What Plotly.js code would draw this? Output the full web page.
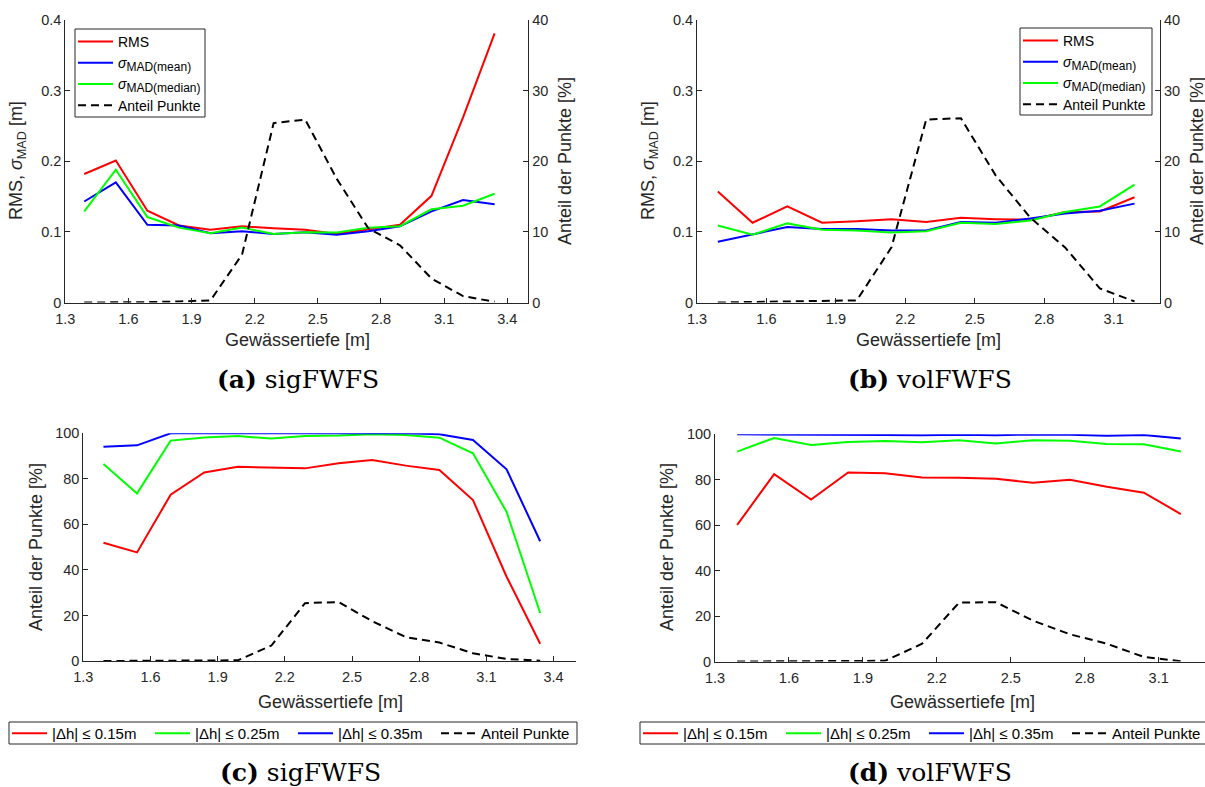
<!DOCTYPE html>
<html>
<head>
<meta charset="utf-8">
<script src="https://cdn.plot.ly/plotly-3.0.1.min.js"></script>
<style>html,body{margin:0;padding:0;background:#fff;}#chart{width:1205px;height:787px;}</style>
</head>
<body>
<div id="chart"></div>
<script>
// ---------- data ----------
const depthSig = [1.39,1.54,1.69,1.84,1.99,2.14,2.29,2.44,2.59,2.74,2.89,3.04,3.19,3.34];
const depthVol = [1.39,1.54,1.69,1.84,1.99,2.14,2.29,2.44,2.59,2.74,2.89,3.04,3.19];

const rmsSig       = [0.182,0.201,0.130,0.109,0.103,0.108,0.105,0.103,0.097,0.103,0.110,0.151,0.262,0.381];
const madMeanSig   = [0.143,0.170,0.110,0.109,0.098,0.101,0.097,0.0995,0.096,0.101,0.108,0.129,0.145,0.139];
const madMedianSig = [0.129,0.188,0.121,0.106,0.098,0.106,0.097,0.0995,0.099,0.106,0.108,0.132,0.137,0.154];
const anteilSig    = [0,0,0.05,0.15,0.3,6.8,25.4,25.9,17.5,10.5,8.1,3.4,0.9,0.1];

const rmsVol       = [0.157,0.113,0.136,0.113,0.115,0.118,0.114,0.120,0.118,0.117,0.128,0.129,0.149];
const madMeanVol   = [0.086,0.097,0.107,0.104,0.104,0.102,0.102,0.114,0.113,0.119,0.126,0.130,0.140];
const madMedianVol = [0.109,0.096,0.112,0.103,0.102,0.099,0.101,0.113,0.111,0.116,0.128,0.136,0.167];
const anteilVol    = [0,0.05,0.1,0.2,0.3,7.8,25.9,26.1,18.0,12.0,7.8,2.0,0.15];

const dh015Sig = [51.9,47.7,73.0,82.8,85.3,85.0,84.6,86.8,88.3,85.8,83.9,70.7,37.0,7.6];
const dh025Sig = [86.5,73.6,96.8,98.2,98.8,97.7,98.8,99.0,99.6,99.3,98.1,91.2,65.5,21.1];
const dh035Sig = [94.1,94.7,100,100,100,100,100,100,100,100,99.6,97.1,84.2,52.6];

const dh015Vol = [60.1,82.5,71.3,83.2,82.9,81.0,80.9,80.4,78.7,80.0,76.9,74.3,64.9];
const dh025Vol = [92.4,98.4,95.3,96.6,97.1,96.5,97.4,95.9,97.4,97.2,95.7,95.6,92.4];
const dh035Vol = [100,100,100,100,99.7,99.6,99.8,99.6,99.9,99.8,99.4,99.7,98.2];

const SUBSTYLE = '<span style="font-size:12px">';
const namesTop = ['RMS',
  '<i>σ</i><sub>' + SUBSTYLE + 'MAD(mean)</span></sub>',
  '<i>σ</i><sub>' + SUBSTYLE + 'MAD(median)</span></sub>',
  'Anteil Punkte'];
const namesBot = ['|Δh| ≤ 0.15m','|Δh| ≤ 0.25m','|Δh| ≤ 0.35m','Anteil Punkte'];
const ticksDepthSig = [1.3,1.6,1.9,2.2,2.5,2.8,3.1,3.4];
const ticksDepthVol = [1.3,1.6,1.9,2.2,2.5,2.8,3.1];

// ---------- layout helpers ----------
const W = 1205, H = 787;
const px = v => v / W;
const py = v => 1 - v / H;
const AX = '#262626';
const SANS = 'Liberation Sans, Arial, sans-serif';
const RED = '#ff0000', GREEN = '#00ff00', BLUE = '#0000ff', BLACK = '#000000';
const LW = 2;
const DASH = '8px,5px';

function line(x, y, color, name, xa, ya, leg, dash) {
  return {type:'scatter', mode:'lines', x:x, y:y, name:name,
    xaxis:xa, yaxis:ya, legend:leg, showlegend:true,
    line:{color:color, width:LW, dash: dash || 'solid'}};
}

const traces = [
  // (a)
  line(depthSig, rmsSig, RED, namesTop[0], 'x', 'y', 'legend'),
  line(depthSig, madMeanSig, BLUE, namesTop[1], 'x', 'y', 'legend'),
  line(depthSig, madMedianSig, GREEN, namesTop[2], 'x', 'y', 'legend'),
  line(depthSig, anteilSig, BLACK, namesTop[3], 'x', 'y2', 'legend', DASH),
  // (b)
  line(depthVol, rmsVol, RED, namesTop[0], 'x2', 'y3', 'legend2'),
  line(depthVol, madMeanVol, BLUE, namesTop[1], 'x2', 'y3', 'legend2'),
  line(depthVol, madMedianVol, GREEN, namesTop[2], 'x2', 'y3', 'legend2'),
  line(depthVol, anteilVol, BLACK, namesTop[3], 'x2', 'y4', 'legend2', DASH),
  // (c)
  line(depthSig, dh015Sig, RED, namesBot[0], 'x3', 'y5', 'legend3'),
  line(depthSig, dh025Sig, GREEN, namesBot[1], 'x3', 'y5', 'legend3'),
  line(depthSig, dh035Sig, BLUE, namesBot[2], 'x3', 'y5', 'legend3'),
  line(depthSig, anteilSig, BLACK, namesBot[3], 'x3', 'y5', 'legend3', DASH),
  // (d)
  line(depthVol, dh015Vol, RED, namesBot[0], 'x4', 'y6', 'legend4'),
  line(depthVol, dh025Vol, GREEN, namesBot[1], 'x4', 'y6', 'legend4'),
  line(depthVol, dh035Vol, BLUE, namesBot[2], 'x4', 'y6', 'legend4'),
  line(depthVol, anteilVol, BLACK, namesBot[3], 'x4', 'y6', 'legend4', DASH)
];

function axis(extra) {
  return Object.assign({
    showline:true, linecolor:AX, linewidth:1, mirror:false,
    ticks:'inside', ticklen:5, tickwidth:1, tickcolor:AX,
    showgrid:false, zeroline:false, fixedrange:true, automargin:false,
    tickfont:{family:SANS, size:14.5, color:AX}
  }, extra);
}

function legendBase(extra) {
  return Object.assign({xanchor:'left', yanchor:'top', bgcolor:'rgba(0,0,0,0)',
    borderwidth:0, itemwidth:35, tracegroupgap:0,
    font:{family:SANS, size:14, color:'#000'}}, extra);
}

function box(x0, x1, y0, y1) {
  return {type:'rect', xref:'paper', yref:'paper', x0:px(x0), x1:px(x1), y0:py(y1), y1:py(y0),
    line:{color:AX, width:1}, fillcolor:'#ffffff', layer:'above'};
}

function note(text, x, y, size, angle, family, color) {
  return {text:text, x:px(x), y:py(y), xref:'paper', yref:'paper', showarrow:false,
    xanchor:'center', yanchor:'middle',
    textangle:angle || 0, font:{family:family || SANS, size:size, color:color || AX}};
}

const topY = [py(302.5), py(20)];
const SERIF = 'DejaVu Serif, serif';
const XSO = 3;
const layout = {
  width:W, height:H,
  margin:{l:0,r:0,t:0,b:0,autoexpand:false},
  paper_bgcolor:'#ffffff', plot_bgcolor:'#ffffff',
  font:{family:SANS, color:AX},
  // (a)
  xaxis: axis({domain:[px(65.3), px(528.3)], range:[1.3,3.5], tickvals:ticksDepthSig, anchor:'y', ticklabelstandoff:XSO}),
  yaxis: axis({domain:topY, range:[0,0.4], tickvals:[0,0.1,0.2,0.3,0.4], anchor:'x'}),
  yaxis2: axis({overlaying:'y', side:'right', range:[0,40], tickvals:[0,10,20,30,40], anchor:'x'}),
  // (b)
  xaxis2: axis({domain:[px(697), px(1160)], range:[1.3,3.3], tickvals:ticksDepthVol, anchor:'y3', ticklabelstandoff:XSO}),
  yaxis3: axis({domain:topY, range:[0,0.4], tickvals:[0,0.1,0.2,0.3,0.4], anchor:'x2'}),
  yaxis4: axis({overlaying:'y3', side:'right', range:[0,40], tickvals:[0,10,20,30,40], anchor:'x2'}),
  // (c)
  xaxis3: axis({domain:[px(83.3), px(576)], range:[1.3,3.5], tickvals:ticksDepthSig, anchor:'y5', ticklabelstandoff:XSO}),
  yaxis5: axis({domain:[py(661), py(433.3)], range:[0,100], tickvals:[0,20,40,60,80,100], anchor:'x3'}),
  // (d)
  xaxis4: axis({domain:[px(715), 1], range:[1.3,3.288], tickvals:ticksDepthVol, anchor:'y6', ticklabelstandoff:XSO}),
  yaxis6: axis({domain:[py(661.5), py(434.3)], range:[0,100], tickvals:[0,20,40,60,80,100], anchor:'x4'}),

  legend: legendBase({x:px(73), y:py(26)}),
  legend2: legendBase({x:px(1018), y:py(25)}),
  legend3: legendBase({orientation:'h', x:px(7), y:py(717), entrywidth:93, entrywidthmode:'pixels',
    font:{family:SANS, size:15, color:'#000'}}),
  legend4: legendBase({orientation:'h', x:px(638), y:py(717), entrywidth:93, entrywidthmode:'pixels',
    font:{family:SANS, size:15, color:'#000'}}),

  shapes: [
    box(75, 205, 29, 117),
    box(1020, 1152, 28, 115),
    box(9, 577, 722, 744),
    box(640, 1215, 722, 744)
  ],

  annotations: [
    // x-axis titles
    note('Gewässertiefe [m]', 297, 340.5, 18),
    note('Gewässertiefe [m]', 928.5, 340.5, 18),
    note('Gewässertiefe [m]', 330, 702, 18),
    note('Gewässertiefe [m]', 962, 702, 18),
    // y-axis titles
    note('RMS, <i>σ</i><sub>MAD</sub> [m]', 17, 161, 18, -90),
    note('Anteil der Punkte [%]', 565, 161, 18, -90),
    note('RMS, <i>σ</i><sub>MAD</sub> [m]', 649, 161, 18, -90),
    note('Anteil der Punkte [%]', 1197, 161, 18, -90),
    note('Anteil der Punkte [%]', 35.5, 547.5, 18, -90),
    note('Anteil der Punkte [%]', 666.5, 547.5, 18, -90),
    // captions
    note('<b>(a)</b> sigFWFS', 298, 379, 25, 0, SERIF, '#000'),
    note('<b>(b)</b> volFWFS', 930, 379, 25, 0, SERIF, '#000'),
    note('<b>(c)</b> sigFWFS', 300, 772, 25, 0, SERIF, '#000'),
    note('<b>(d)</b> volFWFS', 930, 772, 25, 0, SERIF, '#000')
  ]
};

Plotly.newPlot('chart', traces, layout, {staticPlot:true, displayModeBar:false});
</script>
</body>
</html>
